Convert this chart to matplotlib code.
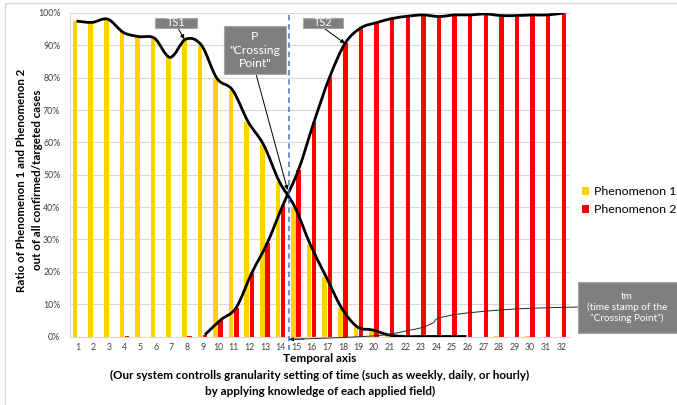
import numpy as np
import matplotlib
matplotlib.use("Agg")
import matplotlib.pyplot as plt
from matplotlib.path import Path
from matplotlib.patches import PathPatch, Rectangle

# ---------------- data ----------------
categories = list(range(1, 33))
phenomenon1 = [97.5, 97.1, 98.1, 94.0, 92.7, 92.2, 86.3, 91.9, 90.1, 79.8, 76.2, 66.4,
               59.2, 47.9, 40.0, 28.3, 18.5, 8.8, 3.0, 2.0, 0.5, 0.0, 0.0, 0.0,
               0.0, 0.0, 0.0, 0.2, 0.0, 0.2, 0.0, 0.0]
phenomenon2 = [0.0, 0.0, 0.0, 0.2, 0.0, 0.0, 0.0, 0.3, 0.5, 5.1, 8.9, 19.6,
               28.9, 40.6, 51.5, 66.4, 80.2, 90.7, 95.4, 97.0, 98.3, 99.0, 99.4, 98.9,
               99.4, 99.4, 99.7, 99.2, 99.2, 99.4, 99.4, 100.0]
line1_range = (1, 26)     # categories covered by the smoothed Phenomenon 1 curve
line2_range = (9, 32)     # categories covered by the smoothed Phenomenon 2 curve
ytick_vals = list(range(0, 101, 10))
ytick_labels = [f"{v}%" for v in ytick_vals]
crossing_x = 14.56

W, H = 677, 405
fig = plt.figure(figsize=(W / 100, H / 100), dpi=100)
plt.rcParams['font.family'] = ['Lato', 'DejaVu Sans']

def fx(px):
    return px / W

def fy(py):
    return 1 - py / H

ax = fig.add_axes([fx(70), fy(336.5), fx(570) - fx(70), fy(13) - fy(336.5)])

YEL = "#FFD200"
RED = "#FF0000"
x = np.array(categories, dtype=float)
bw = 0.29
ax.bar(x - 0.17, phenomenon1, width=bw, color=YEL, zorder=2, label="Phenomenon 1")
ax.bar(x + 0.16, phenomenon2, width=bw, color=RED, zorder=2, label="Phenomenon 2")


def smooth_path(xs, ys):
    pts = np.column_stack([xs, ys])
    n = len(pts)
    verts = [pts[0]]
    codes = [Path.MOVETO]
    for i in range(n - 1):
        p0 = pts[i - 1] if i > 0 else pts[i]
        p1 = pts[i]
        p2 = pts[i + 1]
        p3 = pts[i + 2] if i + 2 < n else pts[i + 1]
        c1 = p1 + (p2 - p0) / 6.0
        c2 = p2 - (p3 - p1) / 6.0
        verts += [c1, c2, p2]
        codes += [Path.CURVE4] * 3
    return Path(np.array(verts), codes)

a, b = line1_range
xs1 = x[a - 1:b] - 0.08
ys1 = np.array(phenomenon1[a - 1:b])
ax.add_patch(PathPatch(smooth_path(xs1, ys1), facecolor="none", edgecolor="black",
                       lw=2.0, zorder=4, capstyle="butt"))
a, b = line2_range
xs2 = x[a - 1:b] + 0.15
ys2 = np.array(phenomenon2[a - 1:b])
ax.add_patch(PathPatch(smooth_path(xs2, ys2), facecolor="none", edgecolor="black",
                       lw=2.0, zorder=4, capstyle="butt"))

ax.set_xlim(0.5, 32.56)
ax.set_ylim(0, 100)
ax.set_yticks(ytick_vals)
ax.set_yticklabels(ytick_labels, fontsize=6.3, color="#404040")
ax.set_xticks(categories)
ax.set_xticklabels([str(c) for c in categories], fontsize=6.3, color="#404040")
ax.tick_params(length=0, pad=5)
ax.tick_params(axis='y', pad=7)
ax.grid(axis='y', color="#D9D9D9", lw=0.8, zorder=0)
ax.set_axisbelow(True)
for s in ["top", "right"]:
    ax.spines[s].set_visible(False)
ax.spines["left"].set_color("#D9D9D9")
ax.spines["bottom"].set_color("#D9D9D9")

# dashed crossing line
ax.plot([crossing_x, crossing_x], [99.4, -4.2], color="#4472C4", lw=1.1,
        ls=(0, (3.5, 2.5)), clip_on=False, zorder=5)

# axis labels
fig.text(fx(22), fy(180), "Ratio of Phenomenon 1 and Phenomenon 2", rotation=90,
         ha="center", va="center", fontsize=8.3, fontweight="bold")
fig.text(fx(38), fy(180), "out of all confirmed/targeted cases", rotation=90,
         ha="center", va="center", fontsize=8.3, fontweight="bold")
fig.text(fx(320), fy(358), "Temporal axis", ha="center", va="center", fontsize=8.6,
         fontweight="bold")
fig.text(fx(320), fy(375), "(Our system controlls granularity setting of time (such as weekly, daily, or hourly)",
         ha="center", va="center", fontsize=8.4, fontweight="bold")
fig.text(fx(320), fy(391), "by applying knowledge of each applied field)", ha="center",
         va="center", fontsize=8.4, fontweight="bold")

# legend
leg = fig.legend(loc="upper left", bbox_to_anchor=(fx(582), fy(186)), frameon=False,
                 fontsize=8.9, handlelength=0.6, handleheight=0.6, handletextpad=0.4,
                 labelspacing=0.6, borderaxespad=0, borderpad=0)

GRAY = "#7F7F7F"

def box(x0, y0, x1, y1, text, fs, cx=None):
    fig.patches.append(Rectangle((fx(x0), fy(y1)), fx(x1) - fx(x0), fy(y0) - fy(y1),
                                 transform=fig.transFigure, facecolor=GRAY,
                                 edgecolor="#A6A6A6", lw=0.8, zorder=6))
    if cx is None:
        cx = (x0 + x1) / 2
    fig.text(fx(cx), fy((y0 + y1) / 2), text, ha="center", va="center",
             color="white", fontsize=fs, zorder=7, linespacing=1.25)

def arrow(px, py, xd, yd):
    ax.annotate("", xy=(xd, yd), xycoords="data", xytext=(fx(px), fy(py)),
                textcoords="figure fraction",
                arrowprops=dict(arrowstyle="-|>", color="black", lw=0.7,
                                mutation_scale=6, shrinkA=0, shrinkB=0), zorder=6)

box(155, 18, 197, 28, "TS1", 7.8)
arrow(178, 28, 7.83, 91.9)
box(303, 18, 343, 27.5, "TS2", 7.8)
arrow(323, 27.5, 18.13, 90.6)
box(224, 26, 286, 74, "P\n\"Crossing\nPoint\"", 8.8)
arrow(256, 74, 14.45, 45.3)
box(578, 282, 690, 333, "tm\n(time stamp of the\n\"Crossing Point\")", 7.2, cx=627)

# thin connector from tm box to crossing time stamp
conn_x = [33.07, 30.5, 28.1, 25.5, 24.1, 23.8, 23.1, 22.1, 21.0, 19.7, 17.0, 14.55]
conn_y = [9.1, 8.8, 8.2, 7.0, 5.6, 4.3, 2.8, 1.8, 0.7, 0.1, -0.5, -0.9]
cp = smooth_path(np.array(conn_x), np.array(conn_y))
ax.add_patch(PathPatch(cp, facecolor="none", edgecolor="#262626", lw=0.7,
                       clip_on=False, zorder=5))
ax.annotate("", xy=(14.55, -0.9), xytext=(15.5, -0.75), xycoords="data",
            arrowprops=dict(arrowstyle="-|>", color="#262626", lw=0.7,
                            mutation_scale=6, shrinkA=0, shrinkB=0),
            annotation_clip=False, zorder=6)

# chart border
fig.patches.append(Rectangle((fx(5), fy(420)), fx(700) - fx(5), fy(3) - fy(420),
                             transform=fig.transFigure, facecolor="none",
                             edgecolor="#D9D9D9", lw=1.0, zorder=0))

fig.savefig("out.png", dpi=100)
